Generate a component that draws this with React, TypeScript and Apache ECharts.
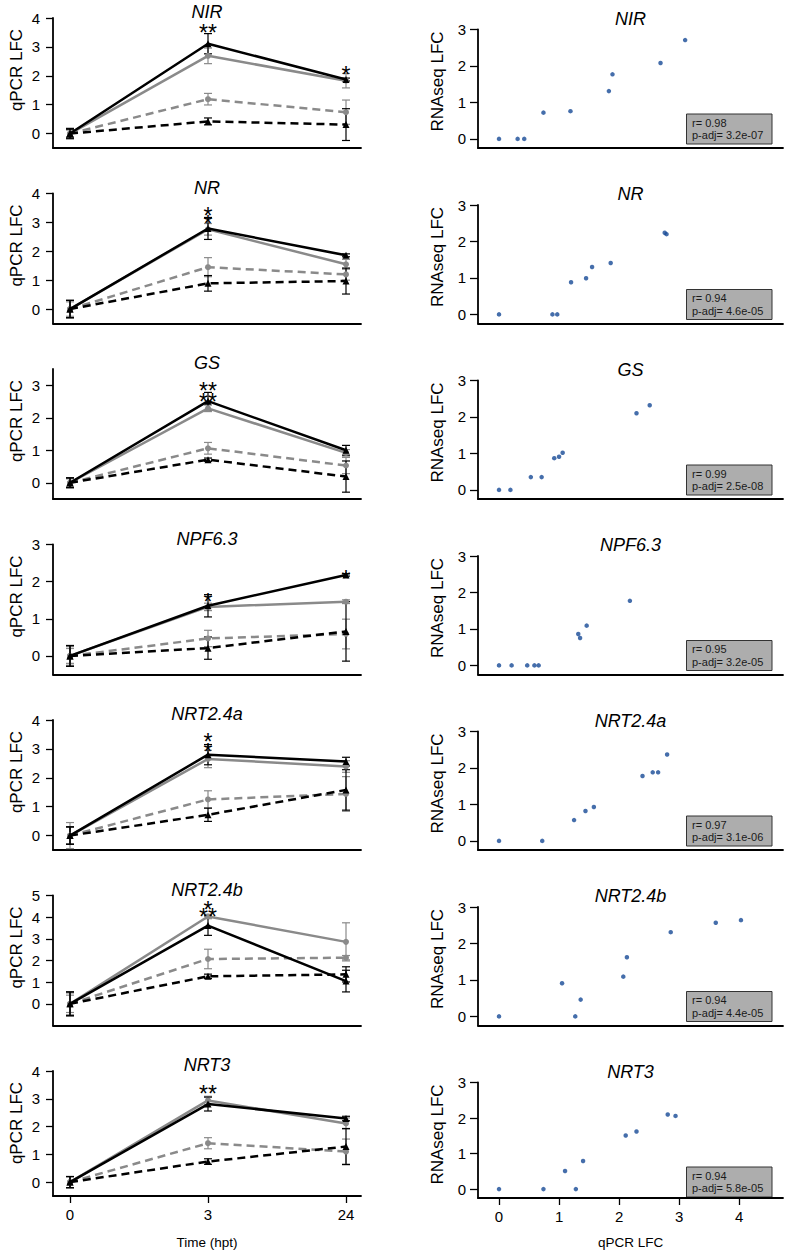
import React, { useEffect, useRef } from "react";
import * as echarts from "echarts";

// ---------- DATA ----------
const genes = ["NIR", "NR", "GS", "NPF6.3", "NRT2.4a", "NRT2.4b", "NRT3"];
const timeLabels = ["0", "3", "24"];
const scatterXTicks = [0, 1, 2, 3, 4];
const scatterYTicks = [0, 1, 2, 3];

const leftYMin = [-0.5, -0.5, -0.5, -0.5, -0.5, -1, -0.5];
const leftYMax = [4, 4, 3.5, 3, 4, 5, 4];
const leftYTicks = [
  [0, 1, 2, 3, 4],
  [0, 1, 2, 3, 4],
  [0, 1, 2, 3],
  [0, 1, 2, 3],
  [0, 1, 2, 3, 4],
  [0, 1, 2, 3, 4, 5],
  [0, 1, 2, 3, 4],
];

// means at 0, 3, 24 hpt
const blackSolid = [
  [0, 3.11, 1.87],
  [0, 2.79, 1.86],
  [0, 2.51, 1.0],
  [0, 1.35, 2.18],
  [0, 2.8, 2.56],
  [0, 3.61, 1.05],
  [0, 2.81, 2.29],
];
const graySolid = [
  [0, 2.69, 1.83],
  [0, 2.76, 1.55],
  [0, 2.29, 0.92],
  [0, 1.32, 1.46],
  [0, 2.65, 2.39],
  [0, 4.03, 2.86],
  [0, 2.94, 2.11],
];
const grayDashed = [
  [0, 1.19, 0.74],
  [0, 1.45, 1.2],
  [0, 1.06, 0.53],
  [0, 0.47, 0.59],
  [0, 1.25, 1.44],
  [0, 2.07, 2.13],
  [0, 1.4, 1.1],
];
const blackDashed = [
  [0, 0.42, 0.31],
  [0, 0.89, 0.97],
  [0, 0.71, 0.19],
  [0, 0.21, 0.66],
  [0, 0.72, 1.58],
  [0, 1.27, 1.36],
  [0, 0.74, 1.28],
];
// error bar half-lengths
const blackSolidErr = [
  [0.15, 0.35, 0.05],
  [0.3, 0.38, 0.05],
  [0.15, 0.27, 0.15],
  [0.28, 0.3, 0.03],
  [0.3, 0.35, 0.15],
  [0.55, 0.45, 0.5],
  [0.2, 0.25, 0.08],
];
const graySolidErr = [
  [0.15, 0.27, 0.25],
  [0.3, 0.2, 0.17],
  [0.15, 0.1, 0.1],
  [0.25, 0.1, 0.05],
  [0.45, 0.3, 0.2],
  [0.5, 0.1, 0.88],
  [0.2, 0.15, 0.2],
];
const grayDashedErr = [
  [0.12, 0.2, 0.42],
  [0.25, 0.33, 0.2],
  [0.12, 0.18, 0.25],
  [0.2, 0.22, 0.4],
  [0.3, 0.3, 0.6],
  [0.4, 0.45, 0.1],
  [0.2, 0.2, 0.45],
];
const blackDashedErr = [
  [0.18, 0.12, 0.55],
  [0.3, 0.27, 0.45],
  [0.15, 0.05, 0.48],
  [0.28, 0.3, 0.8],
  [0.3, 0.23, 0.7],
  [0.55, 0.1, 0.35],
  [0.2, 0.1, 0.65],
];
// significance marks: [time index, centre value, text, line spacing in px]
const signif = [
  [[1, 3.67, "**", 23], [2, 2.19, "*", 23]],
  [[1, 3.25, "*\n*", 7.5]],
  [[1, 2.8, "**\n**", 11]],
  [[1, 1.58, "*", 23], [2, 2.2, "*", 23]],
  [[1, 3.23, "*\n*", 10.5]],
  [[1, 4.38, "*\n**", 7]],
  [[1, 3.34, "**", 23]],
];

// scatter: qPCR LFC (x) vs RNAseq LFC (y)
const qpcrVals = [
  [0, 0.31, 0.42, 0.74, 1.19, 1.83, 1.89, 2.69, 3.1],
  [0, 0.89, 0.97, 1.2, 1.45, 1.55, 1.86, 2.76, 2.79],
  [0, 0.19, 0.53, 0.71, 0.92, 1.0, 1.06, 2.29, 2.51],
  [0, 0.21, 0.47, 0.59, 0.66, 1.32, 1.35, 1.46, 2.18],
  [0, 0.72, 1.25, 1.44, 1.58, 2.39, 2.56, 2.65, 2.8],
  [0, 1.27, 1.05, 1.36, 2.07, 2.13, 2.86, 3.61, 4.03],
  [0, 0.74, 1.1, 1.28, 1.4, 2.11, 2.29, 2.81, 2.94],
];
const rnaseqVals = [
  [0, 0, 0, 0.72, 0.76, 1.31, 1.77, 2.08, 2.71],
  [0, 0, 0, 0.88, 0.99, 1.3, 1.41, 2.24, 2.2],
  [0, 0, 0.35, 0.35, 0.87, 0.91, 1.02, 2.1, 2.32],
  [0, 0, 0, 0, 0, 0.86, 0.75, 1.09, 1.77],
  [0, 0, 0.57, 0.82, 0.93, 1.78, 1.88, 1.88, 2.37],
  [0, 0, 0.91, 0.46, 1.09, 1.62, 2.31, 2.57, 2.64],
  [0, 0, 0.51, 0, 0.79, 1.51, 1.62, 2.1, 2.06],
];
const rValues = ["0.98", "0.94", "0.99", "0.95", "0.97", "0.94", "0.94"];
const pAdj = ["3.2e-07", "4.6e-05", "2.5e-08", "3.2e-05", "3.1e-06", "4.4e-05", "5.8e-05"];

// ---------- LAYOUT ----------
const FONT = '"Liberation Sans", Arial, Helvetica, sans-serif';
const PITCH = 175.5;
const L_LEFT = 53;
const L_WIDTH = 308;
const L_TOP0 = 18;
const L_HEIGHT = 130;
const R_LEFT = 478;
const R_WIDTH = 305;
const R_TOP0 = 29.5;
const R_HEIGHT = 118.5;
const AXIS_Y0 = 148;
const GRAY = "#8a8a8a";
const DOT = "#174a96";

function errSeries(xi: number, yi: number, means: number[], errs: number[], color: string) {
  return {
    type: "custom",
    xAxisIndex: xi,
    yAxisIndex: yi,
    silent: true,
    z: 2,
    clip: false,
    data: means.map((m, i) => [i, m, errs[i]]),
    renderItem: (params: any, api: any) => {
      const x = api.value(0);
      const m = api.value(1);
      const e = api.value(2);
      const p1 = api.coord([x, m + e]);
      const p2 = api.coord([x, m - e]);
      const w = 4;
      const st = { stroke: color, lineWidth: 1.2 };
      return {
        type: "group",
        children: [
          { type: "line", shape: { x1: p1[0], y1: p1[1], x2: p2[0], y2: p2[1] }, style: st },
          { type: "line", shape: { x1: p1[0] - w, y1: p1[1], x2: p1[0] + w, y2: p1[1] }, style: st },
          { type: "line", shape: { x1: p2[0] - w, y1: p2[1], x2: p2[0] + w, y2: p2[1] }, style: st },
        ],
      };
    },
  };
}

function signifSeries(xi: number, yi: number, marks: any[]) {
  return {
    type: "custom",
    xAxisIndex: xi,
    yAxisIndex: yi,
    silent: true,
    z: 7,
    clip: false,
    data: marks.map((s) => [s[0], s[1]]),
    renderItem: (params: any, api: any) => {
      const s = marks[params.dataIndex];
      const p = api.coord([api.value(0), api.value(1)]);
      return {
        type: "text",
        x: p[0],
        y: p[1] + 5,
        style: {
          text: s[2],
          fill: "#000",
          font: `23px ${FONT}`,
          lineHeight: s[3],
          align: "center",
          verticalAlign: "middle",
        },
      };
    },
  };
}

function lineSeries(xi: number, yi: number, means: number[], color: string, dashed: boolean, symbol: string, z: number) {
  return {
    type: "line",
    xAxisIndex: xi,
    yAxisIndex: yi,
    z,
    data: means.map((m, i) => [i, m]),
    symbol,
    symbolSize: symbol === "triangle" ? 7 : 6,
    showSymbol: true,
    itemStyle: { color },
    lineStyle: { color, width: 2.5, type: dashed ? [8, 5] : "solid" },
    silent: true,
  };
}

function buildOption() {
  const grid: any[] = [];
  const xAxis: any[] = [];
  const yAxis: any[] = [];
  const series: any[] = [];
  const graphic: any[] = [];
  const n = genes.length;
  const axisLine = { show: true, onZero: false, lineStyle: { color: "#000", width: 1.8 } };

  for (let r = 0; r < n; r++) {
    const last = r === n - 1;
    const axisY = AXIS_Y0 + r * PITCH;
    // ---- left time-course panel ----
    const gi = grid.length;
    grid.push({ left: L_LEFT, width: L_WIDTH, top: L_TOP0 + r * PITCH, height: L_HEIGHT });
    xAxis.push({
      type: "value",
      gridIndex: gi,
      min: -17 / 138,
      max: 2 + 15 / 138,
      axisLine,
      splitLine: { show: false },
      axisTick: { show: last, customValues: [0, 1, 2], length: 7, lineStyle: { color: "#000", width: 1.3 } },
      axisLabel: {
        show: last,
        customValues: [0, 1, 2],
        formatter: (v: number) => timeLabels[Math.round(v)],
        fontSize: 15,
        fontFamily: FONT,
        color: "#000",
        margin: 11,
      },
      name: last ? "Time (hpt)" : "",
      nameLocation: "middle",
      nameGap: 39,
      nameTextStyle: { fontSize: 13.5, fontFamily: FONT, color: "#000" },
    });
    yAxis.push({
      type: "value",
      gridIndex: gi,
      min: leftYMin[r],
      max: leftYMax[r],
      axisLine,
      splitLine: { show: false },
      axisTick: { show: true, customValues: leftYTicks[r], length: 7, lineStyle: { color: "#000", width: 1.3 } },
      axisLabel: {
        show: true,
        customValues: leftYTicks[r],
        fontSize: 15,
        fontFamily: FONT,
        color: "#000",
        margin: 13,
      },
    });
    series.push(errSeries(gi, gi, graySolid[r], graySolidErr[r], GRAY));
    series.push(errSeries(gi, gi, grayDashed[r], grayDashedErr[r], GRAY));
    series.push(errSeries(gi, gi, blackDashed[r], blackDashedErr[r], "#000"));
    series.push(errSeries(gi, gi, blackSolid[r], blackSolidErr[r], "#000"));
    series.push(lineSeries(gi, gi, graySolid[r], GRAY, false, "circle", 3));
    series.push(lineSeries(gi, gi, grayDashed[r], GRAY, true, "circle", 3));
    series.push(lineSeries(gi, gi, blackDashed[r], "#000", true, "triangle", 4));
    series.push(lineSeries(gi, gi, blackSolid[r], "#000", false, "triangle", 5));
    series.push(signifSeries(gi, gi, signif[r]));
    graphic.push({
      type: "text",
      x: L_LEFT + L_WIDTH / 2,
      y: L_TOP0 + r * PITCH - 6,
      style: { text: genes[r], font: `italic 18px ${FONT}`, fill: "#000", align: "center", verticalAlign: "middle" },
    });
    graphic.push({
      type: "text",
      x: 16,
      y: L_TOP0 + r * PITCH + 52,
      rotation: Math.PI / 2,
      style: { text: "qPCR LFC", font: `17px ${FONT}`, fill: "#000", align: "center", verticalAlign: "middle" },
    });

    // ---- right scatter panel ----
    const gj = grid.length;
    grid.push({ left: R_LEFT, width: R_WIDTH, top: R_TOP0 + r * PITCH, height: R_HEIGHT });
    xAxis.push({
      type: "value",
      gridIndex: gj,
      min: -0.35,
      max: 4.73,
      axisLine,
      splitLine: { show: false },
      axisTick: { show: last, customValues: scatterXTicks, length: 7, lineStyle: { color: "#000", width: 1.3 } },
      axisLabel: {
        show: last,
        customValues: scatterXTicks,
        fontSize: 15,
        fontFamily: FONT,
        color: "#000",
        margin: 11,
      },
      name: last ? "qPCR LFC" : "",
      nameLocation: "middle",
      nameGap: 37,
      nameTextStyle: { fontSize: 13.5, fontFamily: FONT, color: "#000" },
    });
    yAxis.push({
      type: "value",
      gridIndex: gj,
      min: -0.25,
      max: 3,
      axisLine,
      splitLine: { show: false },
      axisTick: { show: true, customValues: scatterYTicks, length: 8, lineStyle: { color: "#000", width: 1.3 } },
      axisLabel: {
        show: true,
        customValues: scatterYTicks,
        fontSize: 15,
        fontFamily: FONT,
        color: "#000",
        margin: 12,
      },
    });
    series.push({
      type: "scatter",
      xAxisIndex: gj,
      yAxisIndex: gj,
      silent: true,
      symbol: "circle",
      symbolSize: 4.5,
      itemStyle: { color: DOT },
      data: qpcrVals[r].map((x, i) => [x, rnaseqVals[r][i]]),
    });
    graphic.push({
      type: "text",
      x: R_LEFT + R_WIDTH / 2,
      y: R_TOP0 + r * PITCH - 11,
      style: { text: genes[r], font: `italic 18px ${FONT}`, fill: "#000", align: "center", verticalAlign: "middle" },
    });
    graphic.push({
      type: "text",
      x: 437.5,
      y: R_TOP0 + r * PITCH + 52,
      rotation: Math.PI / 2,
      style: { text: "RNAseq LFC", font: `17px ${FONT}`, fill: "#000", align: "center", verticalAlign: "middle" },
    });
    graphic.push({
      type: "rect",
      shape: { x: 686.5, y: axisY - 34, width: 85.5, height: 30 },
      style: { fill: "#adadad", stroke: "#333", lineWidth: 1 },
    });
    graphic.push({
      type: "text",
      x: 692,
      y: axisY - 25.5,
      style: { text: `r= ${rValues[r]}`, font: `11px ${FONT}`, fill: "#1a1a1a", align: "left", verticalAlign: "middle" },
    });
    graphic.push({
      type: "text",
      x: 692,
      y: axisY - 13,
      style: { text: `p-adj= ${pAdj[r]}`, font: `11px ${FONT}`, fill: "#1a1a1a", align: "left", verticalAlign: "middle" },
    });
  }

  return {
    animation: false,
    backgroundColor: "#fff",
    textStyle: { fontFamily: FONT },
    grid,
    xAxis,
    yAxis,
    series,
    graphic,
  };
}

export default function App() {
  const ref = useRef<HTMLDivElement>(null);
  useEffect(() => {
    document.body.style.margin = "0";
    if (!ref.current) return;
    const chart = echarts.init(ref.current, undefined, { renderer: "svg" });
    chart.setOption(buildOption() as any);
    return () => chart.dispose();
  }, []);
  return <div ref={ref} style={{ width: 785, height: 1250 }} />;
}
